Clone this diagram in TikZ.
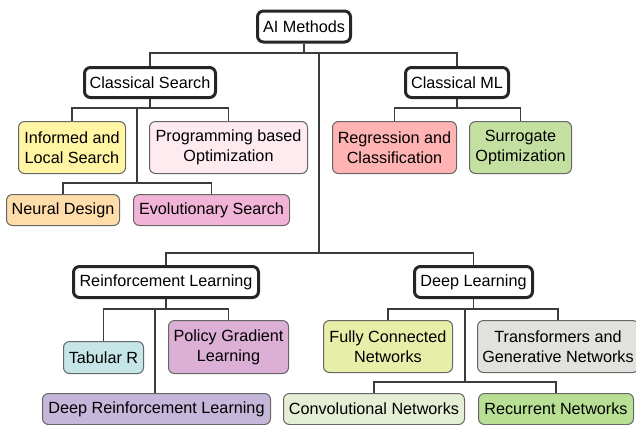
\documentclass[tikz,border=0pt]{standalone}
\usepackage{fontspec}
\setmainfont{Liberation Sans}
\usetikzlibrary{shadows}
\definecolor{cInf}{HTML}{FFF5A3}
\definecolor{cProg}{HTML}{FDEBF0}
\definecolor{cNeur}{HTML}{FFDDAA}
\definecolor{cEvo}{HTML}{F2B4D6}
\definecolor{cReg}{HTML}{FFB3B3}
\definecolor{cSur}{HTML}{C3E0A1}
\definecolor{cTab}{HTML}{C5E5E7}
\definecolor{cPol}{HTML}{DCAFD6}
\definecolor{cDrl}{HTML}{C5B7DA}
\definecolor{cFc}{HTML}{E7EEA8}
\definecolor{cTr}{HTML}{E1E1DD}
\definecolor{cConv}{HTML}{E3EED4}
\definecolor{cRec}{HTML}{B8E094}
\definecolor{edge}{HTML}{3C3C3C}
\tikzset{
  every node/.style={font=\fontsize{16.2}{20}\selectfont, inner sep=0pt, align=center},
  mainbox/.style={draw=black!85, line width=3pt, rounded corners=6pt, fill=white,
    drop shadow={shadow xshift=1.2pt, shadow yshift=-1.2pt, opacity=0.25}},
  subbox/.style={draw=black!60, line width=1pt, rounded corners=6pt, fill=#1},
  conn/.style={draw=edge, line width=1.5pt}
}
\begin{document}
\begin{tikzpicture}[x=1pt,y=-1pt]
\useasboundingbox (0,0) rectangle (636,424);
% main nodes
\node[mainbox, minimum width=93pt, minimum height=31pt] (ai) at (304,26.5) {AI Methods};
\node[mainbox, minimum width=131pt, minimum height=30pt] (cs) at (150,82.5) {Classical Search};
\node[mainbox, minimum width=103pt, minimum height=30pt] (cml) at (457,82.5) {Classical ML};
\node[mainbox, minimum width=185pt, minimum height=31pt] (rl) at (166,282) {Reinforcement Learning};
\node[mainbox, minimum width=118pt, minimum height=31pt] (dl) at (473.5,282) {Deep Learning};
% sub nodes
\node[subbox=cInf, minimum width=107pt, minimum height=52pt] (inf) at (72,147.5) {Informed and\\Local Search};
\node[subbox=cProg, minimum width=158pt, minimum height=52pt] (prog) at (228.5,147.5) {Programming based\\Optimization};
\node[subbox=cNeur, minimum width=113pt, minimum height=31pt] (neur) at (63,210) {Neural Design};
\node[subbox=cEvo, minimum width=156pt, minimum height=31pt] (evo) at (211.5,210) {Evolutionary Search};
\node[subbox=cReg, minimum width=124pt, minimum height=52pt] (reg) at (394.5,147.5) {Regression and\\Classification};
\node[subbox=cSur, minimum width=102pt, minimum height=52pt] (sur) at (520.5,147.5) {Surrogate\\Optimization};
\node[subbox=cTab, minimum width=80pt, minimum height=32pt] (tab) at (103.5,357.5) {Tabular R};
\node[subbox=cPol, minimum width=120pt, minimum height=53pt] (pol) at (228.5,347) {Policy Gradient\\Learning};
\node[subbox=cDrl, minimum width=228pt, minimum height=31pt] (drl) at (156.5,409) {Deep Reinforcement Learning};
\node[subbox=cFc, minimum width=129pt, minimum height=52pt] (fc) at (388,346.5) {Fully Connected\\Networks};
\node[subbox=cTr, minimum width=161pt, minimum height=52pt] (tr) at (558,346.5) {Transformers and\\Generative Networks};
\node[subbox=cConv, minimum width=181pt, minimum height=31pt] (conv) at (374,409) {Convolutional Networks};
\node[subbox=cRec, minimum width=155pt, minimum height=31pt] (rec) at (556,409) {Recurrent Networks};
% junctions
\coordinate (j1) at (319,53);
\coordinate (j2) at (319,253);
\coordinate (k1) at (137,108);
\coordinate (k2) at (137,183);
\coordinate (l1) at (457,108);
\coordinate (m1) at (155,309);
\coordinate (n1) at (465,309);
\coordinate (n2) at (465,382);
% connectors
\begin{scope}[on background layer/.style={}]
\draw[conn] (ai.south) -- (ai.south |- j1);
\draw[conn] (cs.north) -- (cs.north |- j1) -- (cml.north |- j1) -- (cml.north);
\draw[conn] (j1) -- (j2);
\draw[conn] (rl.north) -- (rl.north |- j2) -- (dl.north |- j2) -- (dl.north);
\draw[conn] (cs.south) -- (cs.south |- k1);
\draw[conn] (inf.north) -- (inf.north |- k1) -- (prog.north |- k1) -- (prog.north);
\draw[conn] (k1) -- (k2);
\draw[conn] (neur.north) -- (neur.north |- k2) -- (evo.north |- k2) -- (evo.north);
\draw[conn] (cml.south) -- (l1);
\draw[conn] (reg.north) -- (reg.north |- l1) -- (sur.north |- l1) -- (sur.north);
\draw[conn] (rl.south) -- (rl.south |- m1);
\draw[conn] (tab.north) -- (tab.north |- m1) -- (pol.north |- m1) -- (pol.north);
\draw[conn] (m1) -- (m1 |- drl.north);
\draw[conn] (dl.south) -- (dl.south |- n1);
\draw[conn] (fc.north) -- (fc.north |- n1) -- (tr.north |- n1) -- (tr.north);
\draw[conn] (n1) -- (n2);
\draw[conn] (conv.north) -- (conv.north |- n2) -- (rec.north |- n2) -- (rec.north);
\end{scope}
\end{tikzpicture}
\end{document}
